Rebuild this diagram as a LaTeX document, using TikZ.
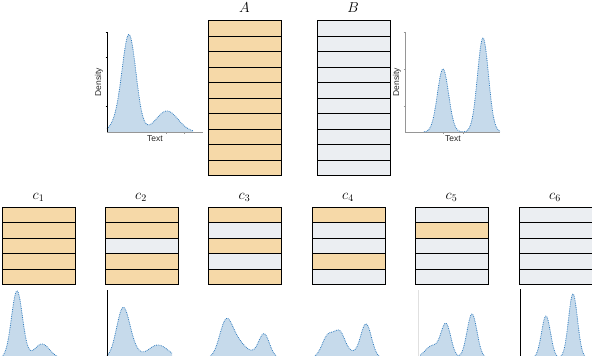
\documentclass[tikz,border=0pt]{standalone}
\usepackage{fontspec}
\newfontfamily\plotfont{Liberation Sans}
\definecolor{orng}{RGB}{246,217,168}
\definecolor{gry}{RGB}{235,238,242}
\definecolor{dfill}{RGB}{198,218,235}
\definecolor{dline}{RGB}{50,125,190}
\definecolor{axgrey}{RGB}{150,150,150}
\newcommand\gss[3]{#2*exp(-0.5*(\x-#1)*(\x-#1)/(#3*#3))}
\newcommand\densplot[4]{%
  \fill[dfill] (#2,#1) -- plot[domain=#2:#3,samples=160] (\x,{#1-(#4)}) -- (#3,#1) -- cycle;
  \draw[dline] plot[domain=#2:#3,samples=160] (\x,{#1-(#4)});}
\begin{document}
\begin{tikzpicture}[x=1pt,y=-1pt,
  cell/.style={draw=black,line width=0.8pt,minimum width=73pt,minimum height=15.5pt,inner sep=0pt,anchor=north west},
  scell/.style={cell,minimum height=15.4pt},
  biglbl/.style={font=\fontsize{14}{14}\selectfont,inner sep=0pt},
  axlbl/.style={font=\plotfont\fontsize{8.5}{9}\selectfont,inner sep=0pt,text=black!85},
  dline/.style={draw=dline,densely dotted,line width=0.8pt},
  axk/.style={draw=black,line width=0.6pt},
  axg/.style={draw=axgrey,line width=0.5pt},
  axl/.style={draw=black!12,line width=0.5pt}]
\useasboundingbox (0,0) rectangle (592,356);
\clip (0,0) rectangle (592,356);

% --- big tables A and B
\foreach \i/\c in {1/orng,2/orng,3/orng,4/orng,5/orng,6/orng,7/orng,8/orng,9/orng,10/orng}
  \node[cell,fill=\c] (A\i) at (208,{20+(\i-1)*15.5}) {};
\foreach \i/\c in {1/gry,2/gry,3/gry,4/gry,5/gry,6/gry,7/gry,8/gry,9/gry,10/gry}
  \node[cell,fill=\c] (B\i) at (316.5,{20+(\i-1)*15.5}) {};
\node[biglbl] (labA) at (244.5,8) {$A$};
\node[biglbl] (labB) at (353,8) {$B$};

% --- top-left density
\densplot{132}{107}{193}{\gss{129}{97}{7}+\gss{115}{6}{6}+\gss{167}{21}{11}}
\draw[axg] (107,132) -- (203,132);
\draw[axk] (107,32) -- (107,132);
\foreach \t in {32,57,106} \draw[axk] (105.5,\t) -- (107,\t);
\foreach \t in {166,184} \draw[axg] (\t,132) -- (\t,134);
\node[axlbl,rotate=90] (dl) at (99,82) {Density};
\node[axlbl] (tl) at (155,139) {Text};

% --- top-right density
\densplot{132}{424}{500}{\gss{443}{63}{5.6}+\gss{483}{94}{5.5}}
\draw[axg] (405,132) -- (500,132);
\draw[axg] (405,32) -- (405,132);
\foreach \t in {32,69,106} \draw[axg] (403.5,\t) -- (405,\t);
\foreach \t in {443,463} \draw[axg] (\t,132) -- (\t,134);
\node[axlbl,rotate=90] (dr) at (397,82) {Density};
\node[axlbl] (tr) at (453,139) {Text};

% --- small tables c1..c6
\foreach \k/\xx/\pat in {1/2/{orng,orng,orng,orng,orng},
                        2/104.5/{orng,orng,gry,orng,orng},
                        3/208/{orng,gry,orng,gry,orng},
                        4/311.5/{orng,gry,gry,orng,gry},
                        5/415/{gry,orng,gry,gry,gry},
                        6/518.5/{gry,gry,gry,gry,gry}}{
  \foreach \c [count=\i] in \pat
    \node[scell,fill=\c] (c\k r\i) at (\xx,{207+(\i-1)*15.4}) {};
  \node[biglbl,font=\fontsize{14.5}{14.5}\selectfont] (lc\k) at ({\xx+36.5},197) {$c_{\k}$};
}

% --- bottom densities
\densplot{358}{0}{60}{\gss{17}{67}{5.5}+\gss{42}{14}{7.5}}
\densplot{358}{107}{172}{\gss{123}{49}{6.5}+\gss{133}{6}{6}+\gss{158}{13}{10}}
\draw[axk] (107,290) -- (107,356);
\densplot{358}{210}{277}{\gss{226}{36}{6.5}+\gss{238}{14}{7}+\gss{250}{4}{6}+\gss{264}{24}{5.5}}
\densplot{358}{314}{379}{\gss{328}{22}{6}+\gss{340}{24}{5.5}+\gss{352}{4}{5}+\gss{366}{34}{5.5}}
\densplot{358}{420}{486}{\gss{432}{12}{7}+\gss{446}{33}{5}+\gss{472}{44}{5}}
\draw[axl] (418,290) -- (418,356);
\densplot{358}{530}{590}{\gss{546}{42}{4.5}+\gss{573}{64}{4.5}}
\draw[axk] (520,289) -- (520,356);
\end{tikzpicture}
\end{document}
